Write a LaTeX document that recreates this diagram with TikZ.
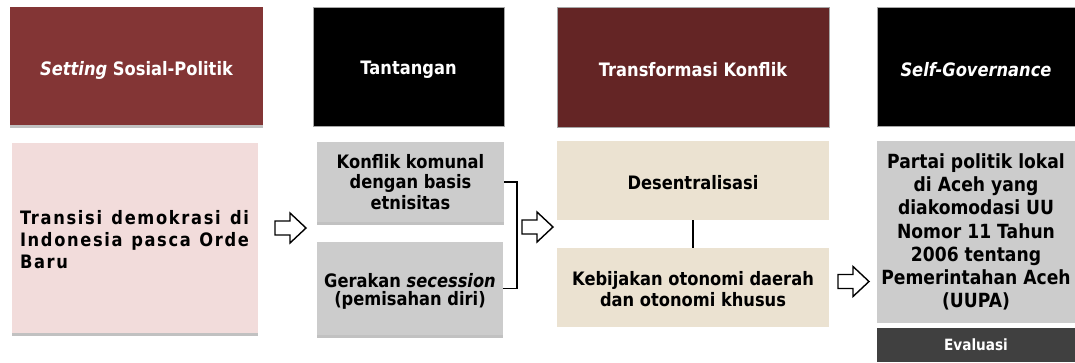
\documentclass[tikz,border=0pt]{standalone}
\usepackage{fontspec}
\setmainfont{DejaVu Sans}[FakeStretch=0.88]
\usetikzlibrary{shadows}
\definecolor{hdrA}{HTML}{833535}
\definecolor{hdrC}{HTML}{642525}
\definecolor{pinkbox}{HTML}{F2DCDB}
\definecolor{graybox}{HTML}{CCCCCC}
\definecolor{tanbox}{HTML}{EBE2D1}
\definecolor{evalbox}{HTML}{404040}
\tikzset{
  box/.style={rectangle, inner sep=0pt, align=center,
    font=\bfseries\fontsize{18.5}{20.7}\selectfont},
  head/.style={box, text=white},
  outlined/.style={draw=black!35, line width=0.6pt},
  shadowed/.style={drop shadow={shadow xshift=0pt, shadow yshift=-2.5pt,
    opacity=0.35, fill=black!70}},
  blockarrow/.style={draw=black, line width=1.4pt, fill=white, line join=miter},
  bracketline/.style={draw=black, line width=1.1pt},
}
\newcommand\hollowarrow[1]{%
  \draw[blockarrow] (#1) ++(-15.5,-7) -- ++(15,0) -- ++(0,-8) -- ++(16,15)
    -- ++(-16,15) -- ++(0,-8) -- ++(-15,0) -- cycle;}
% lower text inside its node while keeping its reported size
\newcommand\lowerby[2]{\raisebox{-#1}[\height][\depth]{#2}}
\begin{document}
\begin{tikzpicture}[x=1pt,y=-1pt]
\useasboundingbox (0,0) rectangle (1075,362);
% headers
\node[head, shadowed, fill=hdrA, minimum width=253pt, minimum height=118pt] (h1) at (136.5,66)
  {\lowerby{4pt}{\textit{Setting} Sosial-Politik}};
\node[head, outlined, fill=black, minimum width=191pt, minimum height=119pt] (h2) at (408.5,66.5)
  {\lowerby{3pt}{Tantangan}};
\node[head, outlined, fill=hdrC, minimum width=272pt, minimum height=120pt] (h3) at (693,67)
  {\lowerby{3pt}{Transformasi Konflik}};
\node[head, outlined, fill=black, minimum width=198pt, minimum height=119pt] (h4) at (976,66.5)
  {\lowerby{3pt}{\textit{Self-Governance}}};
% column 1
\node[box, shadowed, fill=pinkbox, minimum width=246pt, minimum height=190pt,
  text width=229pt, align=left, font=\bfseries\fontsize{18.5}{22}\selectfont] (p1) at (134.5,238)
  {\lowerby{2pt}{\parbox{229pt}{\addfontfeature{LetterSpace=9}%
   \makebox[229pt][s]{Transisi\hfil\ demokrasi\hfil\ di}\\
   \makebox[229pt][s]{Indonesia\hfil\ pasca\hfil\ Orde}\\ Baru}}};
% column 2
\node[box, shadowed, fill=graybox, minimum width=187pt, minimum height=80pt] (g1) at (410.5,182)
  {Konflik komunal\\dengan basis\\etnisitas};
\node[box, shadowed, fill=graybox, minimum width=186pt, minimum height=93pt] (g2) at (410,288.5)
  {\lowerby{3pt}{\shortstack{Gerakan \textit{secession}\\(pemisahan diri)}}};
% column 3
\node[box, fill=tanbox, minimum width=272pt, minimum height=79pt] (t1) at (693,180.5)
  {\lowerby{2pt}{Desentralisasi}};
\node[box, fill=tanbox, minimum width=272pt, minimum height=79pt] (t2) at (693,287.5)
  {\lowerby{1.5pt}{\shortstack{Kebijakan otonomi daerah\\dan otonomi khusus}}};
% column 4
\node[box, fill=graybox, minimum width=198pt, minimum height=182pt,
  font=\bfseries\fontsize{19.5}{23.2}\selectfont] (pp) at (976,232)
  {Partai politik lokal\\di Aceh yang\\diakomodasi UU\\Nomor 11 Tahun\\2006 tentang\\Pemerintahan Aceh\\(UUPA)};
\node[box, fill=evalbox, text=white, minimum width=198pt, minimum height=34pt,
  font=\bfseries\fontsize{15.5}{18}\selectfont] (ev) at (976,345)
  {Evaluasi};
% connectors
\coordinate (bk) at (517,182);
\draw[bracketline] (g1.east) -- (bk) |- (g2.east);
\draw[bracketline] (t1.south) -- (t2.north);
% block arrows
\coordinate (a1) at (290.5,228);
\coordinate (a2) at (537.5,227);
\coordinate (a3) at (853.5,281.5);
\hollowarrow{a1}
\hollowarrow{a2}
\hollowarrow{a3}
\end{tikzpicture}
\end{document}
